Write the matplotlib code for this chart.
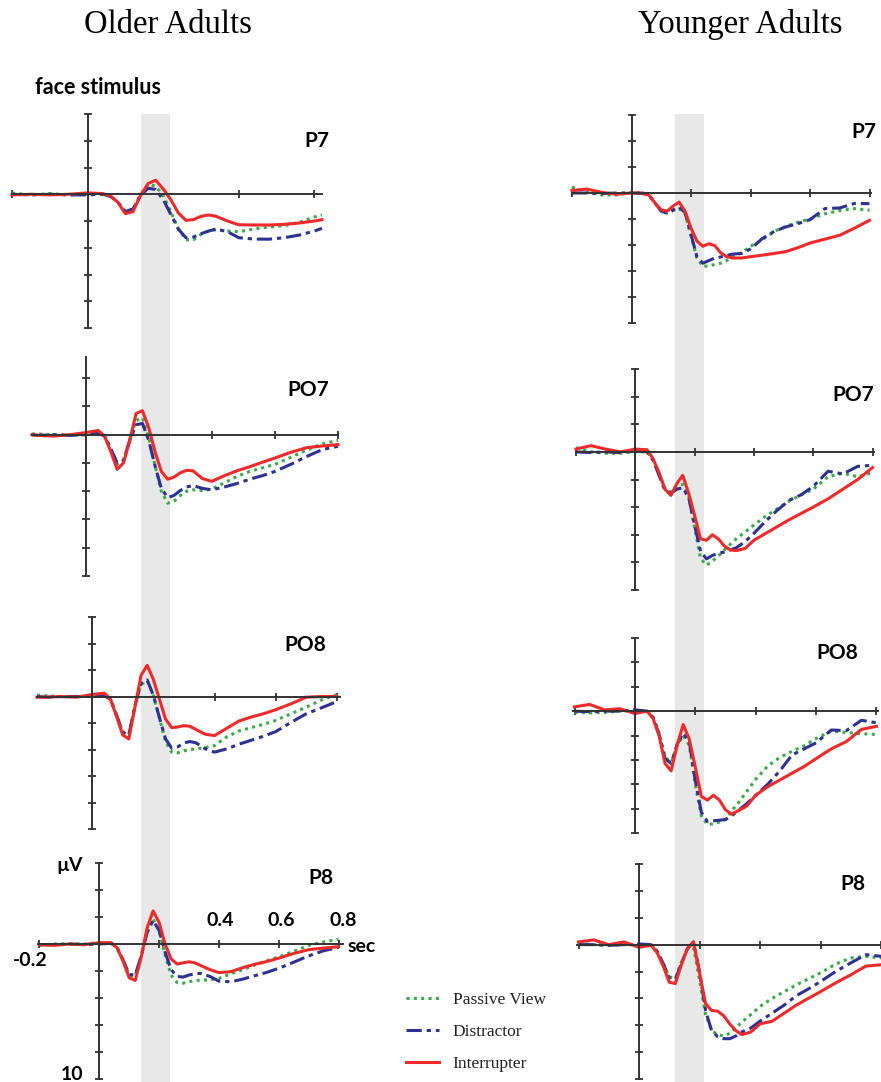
import matplotlib.pyplot as plt
from matplotlib.patches import Rectangle

W, H = 881, 1082

# time points (s)
t_full = [-0.2, -0.15, -0.1, -0.05, 0.0, 0.04, 0.06, 0.08, 0.10, 0.12, 0.14, 0.16, 0.18, 0.20,
          0.22, 0.24, 0.26, 0.28, 0.30, 0.32, 0.34, 0.37, 0.40, 0.44, 0.48, 0.52, 0.56, 0.60,
          0.65, 0.70, 0.75, 0.80]
older_p7_t = t_full[:28] + [0.62]
older_po7_t = [-0.17] + t_full[1:]
older_po8_t = [-0.18] + t_full[1:]

# amplitudes in microvolts (positive plotted downward)
older_p7_passive = [-0.1, 0.05, -0.05, 0.05, 0.0, 0.0, 0.15, 0.6, 1.3, 1.1, 0.0, -0.75, -0.6, 0.1, 1.3, 2.6,
                    3.4, 3.4, 3.0, 2.75, 2.65, 2.75, 2.8, 2.6, 2.45, 2.35, 2.1, 1.7, 1.55]
older_p7_distractor = [0.0, 0.05, 0.0, 0.05, 0.05, 0.0, 0.15, 0.6, 1.3, 1.1, 0.1, -0.45, -0.35, 0.4, 1.5, 2.6,
                       3.25, 3.2, 2.95, 2.75, 2.6, 2.8, 3.25, 3.35, 3.36, 3.25, 3.05, 2.75, 2.55]
older_p7_interrupter = [0.05, 0.0, 0.05, 0.0, -0.1, -0.05, 0.1, 0.6, 1.45, 1.3, 0.1, -0.8, -1.05, -0.4, 0.4, 1.4,
                        1.95, 1.9, 1.65, 1.55, 1.65, 2.0, 2.28, 2.3, 2.3, 2.25, 2.15, 2.0, 1.9]

older_po7_passive = [-0.05, -0.05, 0.0, 0.05, 0.0, -0.1, 0.1, 1.0, 2.1, 1.85, 0.3, -1.0, -1.2, 0.2, 2.2, 4.0,
                     4.85, 4.7, 4.3, 4.0, 3.9, 3.95, 3.85, 3.4, 2.95, 2.6, 2.35, 2.1, 1.6, 1.1, 0.65, 0.4]
older_po7_distractor = [0.0, 0.05, 0.0, 0.05, 0.0, -0.1, 0.1, 1.0, 2.0, 1.8, 0.4, -0.7, -0.8, 0.4, 2.2, 3.8,
                        4.45, 4.3, 3.95, 3.7, 3.6, 3.8, 3.9, 3.7, 3.45, 3.15, 2.9, 2.6, 2.1, 1.55, 1.05, 0.82]
older_po7_interrupter = [0.0, 0.05, 0.1, 0.0, -0.15, -0.3, 0.1, 1.2, 2.45, 2.0, 0.4, -1.5, -1.7, -0.5, 1.2, 2.6,
                         3.15, 3.0, 2.7, 2.52, 2.55, 3.1, 3.3, 2.9, 2.55, 2.27, 1.95, 1.65, 1.25, 0.92, 0.8, 0.7]

older_po8_passive = [-0.1, -0.05, 0.0, 0.0, 0.0, -0.05, 0.2, 1.4, 2.7, 2.9, 0.7, -0.9, -1.2, -0.1, 1.6, 3.4,
                     4.2, 4.25, 4.1, 4.0, 3.95, 3.85, 3.7, 3.05, 2.6, 2.35, 2.1, 1.8, 1.3, 0.8, 0.25, -0.13]
older_po8_distractor = [0.0, 0.05, 0.0, 0.0, 0.0, -0.05, 0.2, 1.4, 2.7, 2.9, 0.7, -1.0, -1.25, -0.1, 1.6, 3.2,
                        3.9, 3.8, 3.5, 3.4, 3.5, 3.95, 4.2, 3.95, 3.6, 3.3, 3.0, 2.65, 1.95, 1.3, 0.85, 0.38]
older_po8_interrupter = [0.05, 0.05, 0.0, 0.05, -0.15, -0.25, 0.2, 1.5, 2.9, 3.2, 0.8, -1.6, -2.35, -1.3, 0.2, 1.7,
                         2.35, 2.3, 2.2, 2.25, 2.5, 2.85, 2.95, 2.4, 1.85, 1.55, 1.3, 1.0, 0.55, 0.05, 0.0, 0.0]

older_p8_passive = [0.1, 0.0, 0.0, 0.0, -0.1, -0.05, 0.3, 1.2, 2.3, 2.4, 0.9, -0.9, -1.85, -1.0, 0.8, 2.3,
                    2.85, 2.9, 2.8, 2.7, 2.68, 2.65, 2.55, 2.2, 1.9, 1.55, 1.25, 0.95, 0.55, 0.1, -0.15, -0.35]
older_p8_distractor = [0.05, 0.05, 0.0, 0.05, 0.0, -0.05, 0.3, 1.2, 2.25, 2.3, 0.9, -0.85, -1.75, -1.0, 0.6, 1.9,
                       2.4, 2.45, 2.3, 2.2, 2.18, 2.4, 2.75, 2.8, 2.6, 2.35, 2.1, 1.8, 1.35, 0.88, 0.5, 0.25]
older_p8_interrupter = [0.05, 0.1, 0.0, 0.05, -0.1, -0.1, 0.3, 1.3, 2.5, 2.7, 1.0, -1.2, -2.45, -1.6, 0.0, 1.1,
                        1.48, 1.4, 1.32, 1.4, 1.6, 1.9, 2.12, 2.05, 1.75, 1.5, 1.3, 1.05, 0.7, 0.42, 0.3, 0.2]

younger_p7_passive = [-0.45, -0.1, 0.15, 0.15, -0.05, 0.0, 0.2, 0.8, 1.4, 1.55, 1.35, 1.2, 1.6, 3.3, 5.0, 5.65,
                      5.6, 5.5, 5.4, 5.2, 4.9, 4.6, 4.1, 3.6, 2.95, 2.55, 2.25, 2.0, 1.6, 1.35, 1.2, 1.33]
younger_p7_distractor = [0.0, 0.0, 0.05, 0.0, 0.0, 0.05, 0.2, 0.8, 1.4, 1.55, 1.3, 1.1, 1.5, 3.2, 4.9, 5.4,
                         5.2, 5.0, 4.92, 4.8, 4.7, 4.65, 4.3, 3.5, 2.95, 2.6, 2.35, 2.05, 1.2, 1.15, 0.8, 0.82]
younger_p7_interrupter = [-0.2, -0.3, -0.05, 0.1, 0.0, 0.0, 0.2, 0.8, 1.3, 1.4, 1.0, 0.7, 1.4, 2.7, 3.7, 4.1,
                          3.9, 4.05, 4.6, 4.9, 5.0, 5.0, 4.9, 4.78, 4.65, 4.5, 4.2, 3.85, 3.55, 3.25, 2.7, 2.1]

younger_po7_passive = [-0.3, 0.0, 0.1, 0.1, 0.0, 0.0, 0.6, 1.6, 2.6, 2.9, 2.5, 2.35, 3.2, 5.5, 7.7, 8.2,
                       7.9, 7.55, 7.1, 6.7, 6.3, 5.8, 5.3, 4.65, 4.1, 3.55, 3.1, 2.7, 1.8, 1.55, 1.8, 1.5]
younger_po7_distractor = [0.0, 0.05, 0.0, 0.05, -0.1, 0.0, 0.6, 1.7, 2.8, 3.0, 2.7, 2.6, 3.3, 5.3, 7.2, 7.75,
                          7.5, 7.35, 7.25, 7.1, 6.95, 6.5, 5.9, 5.0, 4.2, 3.5, 3.1, 2.5, 1.4, 1.6, 1.05, 0.97]
younger_po7_interrupter = [-0.2, -0.45, -0.2, 0.0, -0.2, -0.15, 0.5, 1.5, 2.7, 3.15, 2.3, 1.7, 3.0, 4.6, 6.3, 6.4,
                           6.0, 6.3, 6.8, 7.1, 7.15, 7.0, 6.4, 5.9, 5.4, 4.9, 4.45, 4.0, 3.4, 2.7, 2.0, 1.14]

younger_po8_passive = [0.1, 0.15, 0.1, 0.0, -0.1, 0.0, 0.5, 1.8, 3.8, 4.2, 2.8, 2.0, 2.8, 6.0, 8.6, 9.3,
                       9.25, 9.1, 8.9, 8.2, 7.6, 6.6, 5.6, 4.5, 3.8, 3.3, 2.85, 2.25, 1.65, 1.75, 1.85, 1.92]
younger_po8_distractor = [0.0, 0.05, 0.0, 0.0, -0.1, 0.0, 0.5, 1.9, 3.9, 4.3, 2.7, 1.8, 2.5, 5.7, 8.3, 9.05,
                          9.0, 8.95, 8.9, 8.6, 8.2, 7.6, 6.9, 6.0, 4.9, 3.6, 3.1, 2.6, 1.55, 1.6, 0.75, 0.96]
younger_po8_interrupter = [-0.35, -0.55, -0.1, -0.2, 0.2, 0.0, 0.6, 2.0, 4.3, 4.9, 2.8, 1.1, 2.3, 4.6, 7.0, 7.3,
                           6.9, 7.3, 8.1, 8.45, 8.2, 7.8, 6.9, 6.2, 5.65, 5.1, 4.55, 3.9, 3.1, 2.5, 1.5, 1.25]

younger_p8_passive = [-0.1, 0.0, 0.05, 0.0, 0.0, 0.0, 0.5, 1.4, 2.4, 2.5, 1.3, 0.3, 0.2, 2.6, 5.2, 6.4,
                      6.7, 6.8, 6.6, 6.2, 5.75, 5.2, 4.6, 4.0, 3.5, 3.0, 2.55, 2.1, 1.45, 1.0, 0.87, 0.99]
younger_p8_distractor = [0.0, 0.0, 0.05, 0.0, -0.05, 0.0, 0.5, 1.4, 2.5, 2.6, 1.4, 0.3, -0.2, 2.0, 4.9, 6.4,
                         6.85, 7.0, 7.0, 6.8, 6.5, 6.2, 5.7, 5.1, 4.5, 3.8, 3.3, 2.75, 2.0, 1.36, 0.75, 0.87]
younger_p8_interrupter = [-0.2, -0.35, 0.0, -0.2, 0.2, 0.05, 0.6, 1.6, 2.8, 2.9, 1.5, 0.3, -0.2, 2.1, 4.4, 4.9,
                          4.95, 5.3, 5.9, 6.4, 6.7, 6.5, 5.9, 5.7, 5.1, 4.5, 4.0, 3.5, 2.85, 2.25, 1.6, 1.5]

conditions = ['Passive View', 'Distractor', 'Interrupter']
colors = ['#3aaa4a', '#2e3192', '#ee2a2a']
styles = [(0, (1, 1.4)), (0, (5, 1.6, 1.4, 1.6)), '-']

# panels: name, times, curves, pixel box (left, top, right, bottom), xlim, ylim top, x ticks
panels = [
    ('P7', older_p7_t, [older_p7_passive, older_p7_distractor, older_p7_interrupter],
     (12, 114, 322, 328), (-0.2, 0.62), -6, [-0.2, 0.4, 0.6]),
    ('PO7', older_po7_t, [older_po7_passive, older_po7_distractor, older_po7_interrupter],
     (32, 357, 338, 576), (-0.17, 0.8), -5.5, [0.4, 0.6, 0.8]),
    ('PO8', older_po8_t, [older_po8_passive, older_po8_distractor, older_po8_interrupter],
     (37, 617, 340, 829), (-0.18, 0.81), -6, [0.4, 0.6, 0.8]),
    ('P8', t_full, [older_p8_passive, older_p8_distractor, older_p8_interrupter],
     (38, 863, 343, 1079), (-0.205, 0.815), -6, [-0.2, 0.2, 0.4, 0.6, 0.8]),
    ('P7', t_full, [younger_p7_passive, younger_p7_distractor, younger_p7_interrupter],
     (572, 115, 871, 323), (-0.2, 0.805), -6, [-0.2, 0.2, 0.4, 0.6, 0.8]),
    ('PO7', t_full, [younger_po7_passive, younger_po7_distractor, younger_po7_interrupter],
     (576, 369, 874, 590), (-0.2, 0.805), -6, [-0.2, 0.2, 0.4, 0.6, 0.8]),
    ('PO8', t_full, [younger_po8_passive, younger_po8_distractor, younger_po8_interrupter],
     (573, 638, 878, 833), (-0.205, 0.805), -6, [-0.2, 0.2, 0.4, 0.6, 0.8]),
    ('P8', t_full, [younger_p8_passive, younger_p8_distractor, younger_p8_interrupter],
     (577, 864, 881, 1079), (-0.205, 0.8), -6, [-0.2, 0.2, 0.4, 0.6, 0.8]),
]
label_pos = [(329, 141), (329, 390), (326, 645), (333, 878),
             (876, 132), (874, 395), (858, 653), (865, 884)]

sans = ['Lato', 'DejaVu Sans']
serif = ['Liberation Serif', 'DejaVu Serif']

fig = plt.figure(figsize=(W / 100, H / 100), dpi=100)


def px(x, y):
    return x / W, 1 - y / H


# grey N170 window, one strip per column
for x0, x1 in [(141, 170), (675, 704)]:
    fig.add_artist(Rectangle(px(x0, H), (x1 - x0) / W, (H - 114) / H,
                             transform=fig.transFigure, color='#e8e8e8', lw=0, zorder=-1))

lines = []
for (name, t, curves, box, xlim, ytop, xt), (lx, ly) in zip(panels, label_pos):
    l, tp, r, b = box
    ax = fig.add_axes([l / W, 1 - b / H, (r - l) / W, (b - tp) / H])
    ax.patch.set_visible(False)
    for vals, c, ls in zip(curves, colors, styles):
        ln, = ax.plot(t, vals, color=c, ls=ls, lw=2.2, clip_on=False)
        if len(lines) < 3:
            lines.append(ln)
    ax.set_xlim(*xlim)
    ax.set_ylim(10, ytop)
    for s in ['top', 'right']:
        ax.spines[s].set_visible(False)
    for s in ['left', 'bottom']:
        ax.spines[s].set_position(('data', 0))
        ax.spines[s].set_color('#333333')
        ax.spines[s].set_linewidth(1.4)
    ax.set_xticks(xt)
    yt = [v for v in [-6, -4, -2, 2, 4, 6, 8, 10] if v >= ytop]
    ax.set_yticks(yt)
    ax.tick_params(direction='inout', length=5.5, width=1.3, color='#333333',
                   labelleft=False, labelbottom=False)
    fig.text(*px(lx, ly), name, ha='right', va='center', fontsize=15,
             fontweight='bold', family=sans)

fig.text(*px(168, 25), 'Older Adults', ha='center', va='center', fontsize=23.5, family=serif)
fig.text(*px(740, 25), 'Younger Adults', ha='center', va='center', fontsize=23.5, family=serif)
fig.text(*px(35, 87), 'face stimulus', ha='left', va='center', fontsize=15.5,
         fontweight='bold', family=sans)

# axis annotations on the older P8 panel
for s, x, y in [('µV', 70, 865), ('0.4', 220, 921), ('0.6', 281, 921), ('0.8', 343, 921),
                ('sec', 362, 947), ('-0.2', 30, 960), ('10', 72, 1075)]:
    fig.text(*px(x, y), s, ha='center', va='center', fontsize=14, fontweight='bold', family=sans)

fig.legend(lines, conditions, loc='upper left', bbox_to_anchor=px(399, 985), frameon=False,
           borderaxespad=0, prop={'family': serif, 'size': 12.5}, handlelength=1.9,
           handletextpad=0.8, labelspacing=0.9, labelcolor='#222222')

fig.savefig('out.png', dpi=100)
